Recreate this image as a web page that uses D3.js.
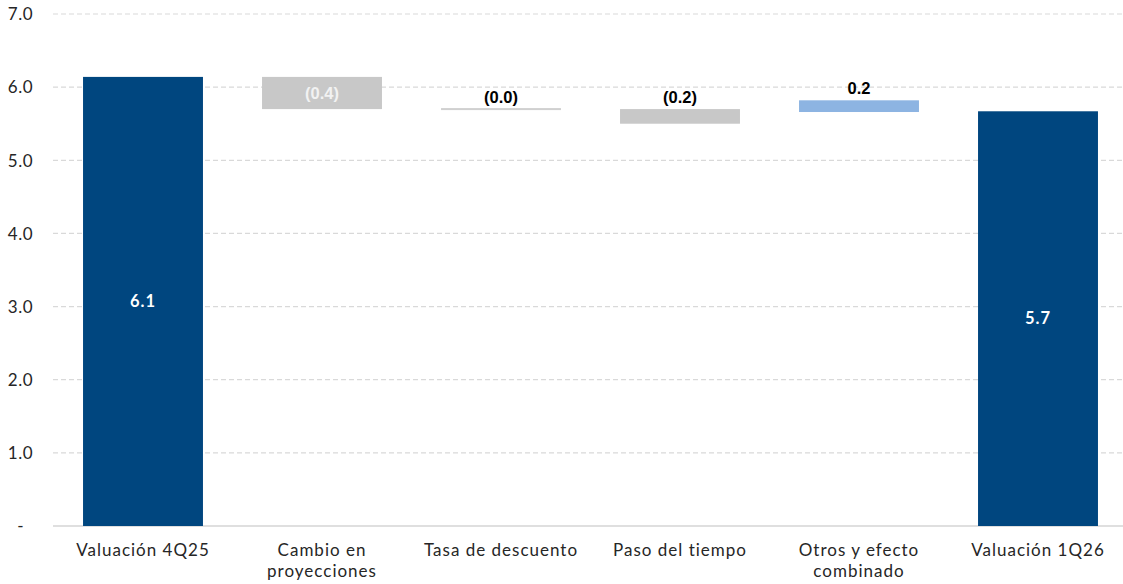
<!DOCTYPE html>
<html>
<head>
<meta charset="utf-8">
<script src="https://cdn.jsdelivr.net/npm/d3@7"></script>
<style>
  html, body { margin: 0; padding: 0; background: #ffffff; }
  svg { display: block; }
</style>
</head>
<body>
<svg id="chart" width="1123" height="584"></svg>
<script>
// ---- Data ----
const categories = [
  ["Valuación 4Q25"],
  ["Cambio en", "proyecciones"],
  ["Tasa de descuento"],
  ["Paso del tiempo"],
  ["Otros y efecto", "combinado"],
  ["Valuación 1Q26"]
];
const barStart = [0, 6.14, 5.70, 5.70, 5.66, 0];
const barEnd   = [6.14, 5.70, 5.70, 5.50, 5.82, 5.67];
const barType  = ["total", "neg", "neg", "neg", "pos", "total"];
const valueLabels = ["6.1", "(0.4)", "(0.0)", "(0.2)", "0.2", "5.7"];
const labelInside = [true, true, false, false, false, true];
const yTicks = [0, 1, 2, 3, 4, 5, 6, 7];
const yTickLabels = ["-", "1.0", "2.0", "3.0", "4.0", "5.0", "6.0", "7.0"];

// ---- Styles ----
const colors = { total: "#00467f", neg: "#c8c8c8", pos: "#8db4e2" };
const labelColors = { total: "#ffffff", neg: "#f2f2f2", pos: "#000000" };
const geoFont = "Lato, 'Open Sans', sans-serif";

const svg = d3.select("#chart");
const W = 1123, H = 584;
const plotLeft = 53.5, plotRight = 1127.5, plotTop = 14, plotBottom = 526;

const x = d3.scaleBand()
  .domain(d3.range(categories.length))
  .range([plotLeft, plotRight])
  .paddingInner(0.33)
  .paddingOuter(0.165);

const y = d3.scaleLinear().domain([0, 7]).range([plotBottom, plotTop]);

// gridlines
const grid = svg.append("g");
grid.selectAll("line")
  .data(yTicks)
  .join("line")
  .attr("x1", 53).attr("x2", W)
  .attr("y1", d => y(d)).attr("y2", d => y(d))
  .attr("stroke", d => d === 0 ? "#d4d4d4" : "#d9d9d9")
  .attr("stroke-width", d => d === 0 ? 1.5 : 1.2)
  .attr("stroke-dasharray", d => d === 0 ? null : "5,3");

// y axis labels
const yAxis = d3.axisLeft(y)
  .tickValues(yTicks)
  .tickFormat((d, i) => yTickLabels[i])
  .tickSize(0)
  .tickPadding(0);
const yg = svg.append("g").attr("transform", "translate(33,0)").call(yAxis);
yg.select(".domain").remove();
yg.selectAll("text")
  .attr("font-family", geoFont)
  .attr("font-size", 17)
  .attr("letter-spacing", "0.5px")
  .attr("fill", "#262626")
  .attr("dy", "0.34em")
  .attr("dx", (d) => d === 0 ? -9 : 0);

// bars
const idx = d3.range(categories.length);
svg.append("g").selectAll("rect")
  .data(idx)
  .join("rect")
  .attr("x", i => x(i))
  .attr("width", x.bandwidth())
  .attr("y", i => y(Math.max(barStart[i], barEnd[i])) - (Math.abs(y(barStart[i]) - y(barEnd[i])) < 2 ? 1 : 0))
  .attr("height", i => Math.max(2, Math.abs(y(barStart[i]) - y(barEnd[i]))))
  .attr("fill", i => barType[i] === "neg" && barStart[i] === barEnd[i] ? "#d0d0d0" : colors[barType[i]]);

// value labels
svg.append("g").selectAll("text")
  .data(idx)
  .join("text")
  .attr("x", i => x(i) + x.bandwidth() / 2)
  .attr("y", i => {
    const top = y(Math.max(barStart[i], barEnd[i]));
    const bot = y(Math.min(barStart[i], barEnd[i]));
    return labelInside[i] ? (top + bot) / 2 : top - 6;
  })
  .attr("dy", i => labelInside[i] ? "0.35em" : "0")
  .attr("text-anchor", "middle")
  .attr("font-family", i => barType[i] === "total" ? geoFont : "'Liberation Sans', Arial, sans-serif")
  .attr("font-weight", "bold")
  .attr("font-size", i => barType[i] === "total" ? 16.5 : 16.5)
  .attr("letter-spacing", i => barType[i] === "total" ? "1px" : "0px")
  .attr("fill", i => labelInside[i] ? labelColors[barType[i]] : "#000000")
  .text(i => valueLabels[i]);

// x category labels
const xl = svg.append("g").selectAll("text")
  .data(idx)
  .join("text")
  .attr("x", i => x(i) + x.bandwidth() / 2)
  .attr("y", 556)
  .attr("text-anchor", "middle")
  .attr("font-family", geoFont)
  .attr("font-size", 17)
  .attr("letter-spacing", "1px")
  .attr("fill", "#262626");
xl.selectAll("tspan")
  .data(i => categories[i])
  .join("tspan")
  .attr("x", function() { return d3.select(this.parentNode).attr("x"); })
  .attr("dy", (d, j) => j === 0 ? 0 : 21)
  .text(d => d);
</script>
</body>
</html>
